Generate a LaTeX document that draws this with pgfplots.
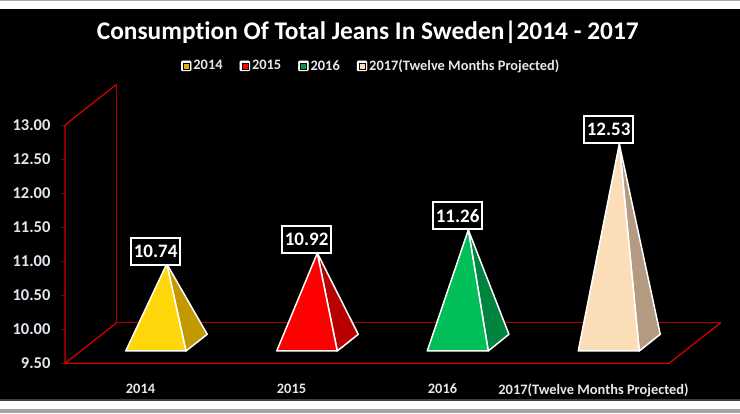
\documentclass[border=0pt]{standalone}
\usepackage{fontspec}
\setmainfont[Ligatures=NoCommon]{Carlito}
\usepackage{pgfplots}
\pgfplotsset{compat=1.18}

\definecolor{wallred}{HTML}{B00000}
\definecolor{floorred}{HTML}{D00000}
\definecolor{tickcol}{HTML}{E4E8EE}
\definecolor{yfront}{HTML}{FFD60A}
\definecolor{yside}{HTML}{C29A00}
\definecolor{rfront}{HTML}{FF0000}
\definecolor{rside}{HTML}{B80000}
\definecolor{gfront}{HTML}{00BF58}
\definecolor{gside}{HTML}{008540}
\definecolor{cfront}{HTML}{FBDDB8}
\definecolor{cside}{HTML}{B39A80}

\pgfplotsset{
    face/.style={forget plot, fill=#1, draw=white, line width=1.5pt, line join=round},
    wall/.style={forget plot, draw=#1, line width=1.3pt},
    keybox/.style={legend image code/.code={
        \fill[white, rounded corners=1pt] (0pt,-5pt) rectangle (10pt,5pt);
        \fill[##1] (2pt,-3pt) rectangle (8pt,3pt);
    }},
}

\begin{document}
\begin{tikzpicture}
    % page: 1pt = 1px of the reference, y measured from the bottom
    \fill[white] (0pt,0pt) rectangle (740pt,413pt);
    \fill[gray!70] (0pt,0pt) rectangle (740pt,4pt);
    \fill[gray!70] (0pt,412pt) rectangle (740pt,413pt);
    \fill[gray!50!black] (0pt,12pt) rectangle (740pt,14pt);
    \fill[black] (0pt,14pt) rectangle (740pt,404pt);

    \begin{axis}[
        at={(65pt,49.7pt)}, anchor=south west,
        scale only axis, width=604pt, height=238.3pt,
        xmin=-0.5, xmax=3.5, ymin=9.5, ymax=13,
        clip=false,
        axis line style={draw=none},
        xtick={0,1,2,3},
        xticklabels={2014,2015,2016,2017(Twelve Months Projected)},
        ytick={9.5,10,...,13},
        tick pos=left,
        xtick style={draw=none},
        ytick style={draw=wallred!70!black, line width=0.8pt},
        tick align=outside,
        major tick length=4pt,
        xticklabel style={font=\fontsize{14.4}{16}\selectfont\bfseries, text=tickcol, yshift=-13pt},
        yticklabel style={font=\fontsize{16.5}{18}\selectfont\bfseries, text=tickcol, xshift=-7pt},
        /pgf/number format/.cd, fixed, fixed zerofill, precision=2, assume math mode=true,
        /pgfplots/.cd,
        legend columns=4,
        legend style={
            at={(axis description cs:0.507,1.248)}, anchor=center,
            draw=none, fill=none, text=tickcol,
            font=\fontsize{14.4}{16}\selectfont\bfseries,
            /tikz/every even column/.append style={column sep=15pt},
        },
        legend cell align=left,
        title style={at={(axis description cs:0.5013,1.3635)}, anchor=center, text=white,
            font=\fontsize{25.4}{30}\selectfont\bfseries},
        title={Consumption Of Total Jeans In Sweden|2014 - 2017},
    ]

    % floor and left wall
    \addplot[wall=wallred] coordinates {(-0.158,13.598) (-0.158,10.096) (3.842,10.096)};
    \addplot[wall=floorred] coordinates {(-0.5,9.5) (-0.158,10.096)};
    \addplot[wall=floorred] coordinates {(-0.5,13) (-0.158,13.598)};
    \addplot[wall=floorred] coordinates {(-0.5,13) (-0.5,9.5) (3.5,9.5) (3.842,10.096)};

    % pyramids, apex sits 0.2 above the value because of the depth of the base
    \addplot[face=yside] coordinates {(0.174,10.96) (0.301,9.681) (0.442,9.926)} -- cycle;
    \addplot[face=yfront] coordinates {(0.174,10.96) (-0.098,9.681) (0.301,9.681)} -- cycle;

    \addplot[face=rside] coordinates {(1.171,11.12) (1.303,9.681) (1.442,9.926)} -- cycle;
    \addplot[face=rfront] coordinates {(1.171,11.12) (0.902,9.681) (1.303,9.681)} -- cycle;

    \addplot[face=gside] coordinates {(2.171,11.46) (2.303,9.681) (2.440,9.926)} -- cycle;
    \addplot[face=gfront] coordinates {(2.171,11.46) (1.899,9.681) (2.303,9.681)} -- cycle;

    \addplot[face=cside] coordinates {(3.171,12.72) (3.303,9.681) (3.442,9.926)} -- cycle;
    \addplot[face=cfront] coordinates {(3.171,12.72) (2.899,9.681) (3.303,9.681)} -- cycle;

    % value boxes
    \addplot[forget plot, draw=none, mark=none,
        nodes near coords,
        every node near coord/.append style={
            anchor=center, yshift=27.5pt, draw=white, line width=2pt, fill=black,
            text=white, minimum width=49pt, minimum height=27pt, inner sep=0pt,
            font=\fontsize{19}{21}\selectfont\bfseries,
        },
    ] coordinates {(0.1,10.74) (1.1,10.92) (2.1,11.26) (3.1,12.53)};

    \addlegendimage{keybox, fill=yside!60!yfront}
    \addlegendentry{2014}
    \addlegendimage{keybox, fill=rfront}
    \addlegendentry{2015}
    \addlegendimage{keybox, fill=gfront!80!black}
    \addlegendentry{2016}
    \addlegendimage{keybox, fill=cfront}
    \addlegendentry{2017(Twelve Months Projected)}
    \end{axis}
\end{tikzpicture}
\end{document}
